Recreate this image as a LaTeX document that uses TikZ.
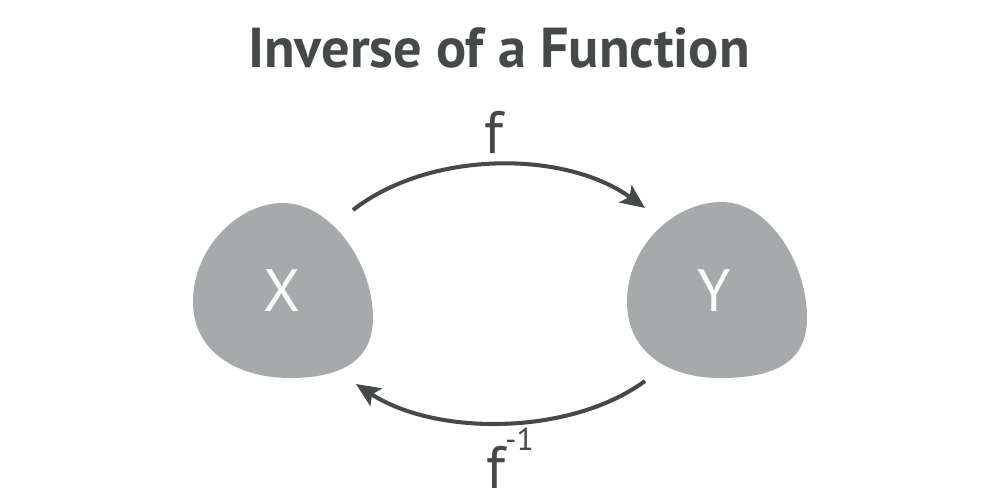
\documentclass[tikz,border=0pt]{standalone}
\usepackage{fontspec}
\setmainfont{PT Sans}
\usetikzlibrary{arrows.meta}
\definecolor{inkgray}{HTML}{46494A}
\definecolor{blobgray}{HTML}{A7AAAB}
\tikzset{
    blob/.style={fill=blobgray, draw=none},
    setname/.style={text=white, font=\fontsize{17}{17}\selectfont},
    maparrow/.style={draw=inkgray, line width=1.15pt, -{Stealth[length=0.24cm, width=0.21cm, inset=0.05cm]}},
    maplabel/.style={text=inkgray, font=\fontsize{17}{17}\selectfont, anchor=base}
}
\begin{document}
\begin{tikzpicture}[x=0.01cm, y=-0.01cm]
    \useasboundingbox (0,0) rectangle (1000,500); % Keeps the picture at the reference size
    \fill[white] (0,0) rectangle (1000,500);

    % Title
    \node[text=inkgray, font=\fontsize{16}{17}\selectfont\bfseries] (title) at (499,48) {Inverse of a Function};

    % The two sets, drawn as soft blobs
    \fill[blob] (283,203) .. controls (330,203) and (373,262) .. (373,318) % top to right
        .. controls (373,364) and (336,378) .. (290,378) % right to bottom
        .. controls (238,378) and (193,352) .. (193,302) % bottom to left
        .. controls (193,248) and (238,203) .. cycle; % left back to top
    \fill[blob] (722,202) .. controls (768,202) and (807,262) .. (807,318)
        .. controls (807,365) and (770,378) .. (720,378)
        .. controls (668,378) and (627,352) .. (627,302)
        .. controls (627,246) and (674,202) .. cycle;
    \node[setname] (X) at (282,291) {X};
    \node[setname] (Y) at (714,291) {Y};

    % End points of the two maps
    \coordinate (fstart) at (353,210);
    \coordinate (fend) at (645,208);
    \coordinate (gstart) at (645,381);
    \coordinate (gend) at (356,384);

    \draw[maparrow] (fstart) .. controls (430,150) and (565,150) .. (fend); % f : X -> Y
    \draw[maparrow] (gstart) .. controls (570,436) and (435,436) .. (gend); % inverse : Y -> X

    \node[maplabel] (f) at (494,153) {f};
    \node[maplabel] (finv) at (510,488) {f\raisebox{0.62em}{\fontsize{9}{9}\selectfont -1}};
\end{tikzpicture}
\end{document}
